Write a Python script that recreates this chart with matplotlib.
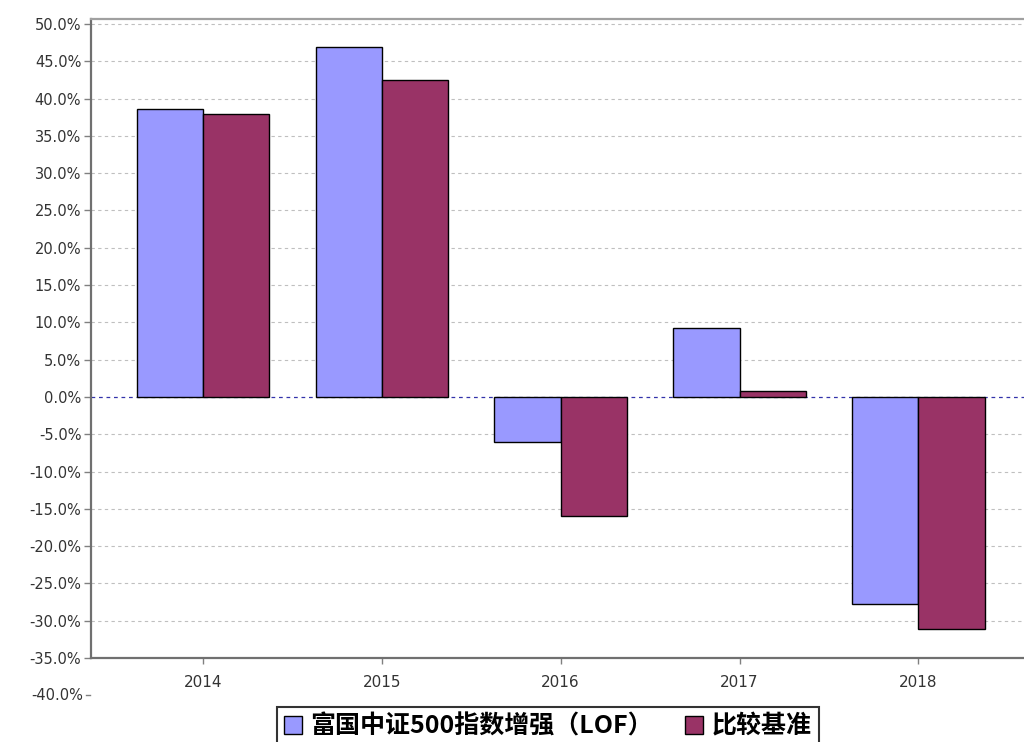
#!/usr/bin/env python3
import numpy as np
import matplotlib

matplotlib.use("Agg")
import matplotlib.pyplot as plt
from matplotlib.patches import Patch

years = ["2014", "2015", "2016", "2017", "2018"]
fund = [38.6, 46.9, -6.0, 9.2, -27.7]
bench = [38.0, 42.5, -15.9, 0.8, -31.1]
names = ["富国中证500指数增强（LOF）", "比较基准"]
yticks = np.arange(-35, 51, 5)

plt.rcParams["font.family"] = ["DejaVu Sans"]

fig = plt.figure(figsize=(10.24, 7.42), dpi=100)
ax = fig.add_axes([0.0889, 0.1132, 0.9111, 0.8612])

x = np.arange(len(years))
w = 0.37
ax.bar(x - w / 2, fund, w, color="#9999FF", edgecolor="black", linewidth=1, zorder=3)
ax.bar(x + w / 2, bench, w, color="#993366", edgecolor="black", linewidth=1, zorder=3)

ax.set_xlim(-0.625, 4.59)
ax.set_ylim(-35, 50.67)

# grid lines
for v in yticks:
    if v == 0:
        ax.axhline(0, color="#3333aa", lw=0.9, ls=(0, (3, 3)), zorder=2)
    elif v > -35:
        ax.axhline(v, color="#bfbfbf", lw=0.8, ls=(0, (3, 3)), zorder=1)

ax.set_yticks(yticks)
ax.set_yticklabels([f"{v:.1f}%" for v in yticks], fontsize=10.5, color="#333333")
ax.set_xticks(x)
ax.set_xticklabels(years, fontsize=11, color="#333333")
ax.tick_params(axis="y", length=5, width=1, color="#808080", pad=2)
ax.tick_params(axis="x", length=4, width=1, color="#808080", pad=8)

# the -40% label sits below the axis line
ax.text(-0.625 - 0.045, -40, "-40.0%", ha="right", va="center", fontsize=10.5,
        color="#333333", clip_on=False)
ax.plot([-0.625 - 0.03, -0.625 - 0.005], [-40, -40], color="#808080", lw=1,
        clip_on=False)

ax.spines["right"].set_visible(False)
ax.spines["left"].set_color("#707070")
ax.spines["left"].set_linewidth(1.6)
ax.spines["bottom"].set_color("#707070")
ax.spines["bottom"].set_linewidth(1.6)
ax.spines["top"].set_color("#a0a0a0")
ax.spines["top"].set_linewidth(1.6)

handles = [
    Patch(facecolor="#9999FF", edgecolor="black", linewidth=1),
    Patch(facecolor="#993366", edgecolor="black", linewidth=1),
]
leg = fig.legend(
    handles, names, loc="lower center", bbox_to_anchor=(0.535, -0.006), ncol=2,
    frameon=True, fancybox=False, edgecolor="black", handlelength=0.7,
    handleheight=0.7, handletextpad=0.35, columnspacing=1.3, borderpad=0.3,
    borderaxespad=0.0,
    prop={"family": ["Noto Sans CJK SC", "DejaVu Sans"], "size": 18, "weight": "bold"},
)
leg.get_frame().set_linewidth(1.5)

fig.savefig("out.png", dpi=100)
